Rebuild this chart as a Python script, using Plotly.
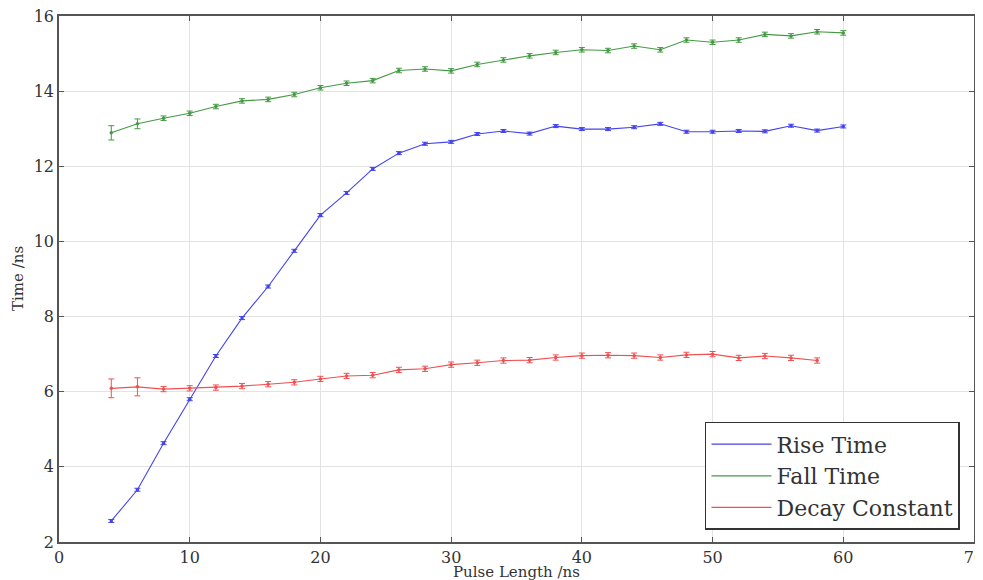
import plotly.graph_objects as go

pulse_rise_fall = [4, 6, 8, 10, 12, 14, 16, 18, 20, 22, 24, 26, 28, 30, 32, 34, 36, 38, 40,
                   42, 44, 46, 48, 50, 52, 54, 56, 58, 60]
pulse_decay = pulse_rise_fall[:-1]

rise_time = [2.56, 3.39, 4.63, 5.80, 6.95, 7.96, 8.80, 9.75, 10.70, 11.29, 11.93, 12.35,
             12.60, 12.65, 12.86, 12.94, 12.87, 13.07, 12.99, 12.99, 13.04, 13.13, 12.92,
             12.92, 12.94, 12.93, 13.08, 12.95, 13.06]
rise_err = [0.04] * len(rise_time)

fall_time = [12.89, 13.13, 13.28, 13.41, 13.59, 13.74, 13.78, 13.91, 14.09, 14.21, 14.28,
             14.55, 14.59, 14.54, 14.71, 14.83, 14.94, 15.03, 15.10, 15.08, 15.20, 15.10,
             15.36, 15.30, 15.36, 15.51, 15.47, 15.58, 15.55]
fall_err = [0.19, 0.13] + [0.06] * (len(fall_time) - 2)

decay_const = [6.09, 6.13, 6.07, 6.09, 6.11, 6.15, 6.20, 6.25, 6.34, 6.42, 6.44, 6.58,
               6.61, 6.72, 6.77, 6.83, 6.84, 6.91, 6.96, 6.97, 6.96, 6.91, 6.98, 7.00,
               6.90, 6.95, 6.90, 6.83]
decay_err = [0.25, 0.24] + [0.07] * (len(decay_const) - 2)

x_ticks = [0, 10, 20, 30, 40, 50, 60, 70]
y_ticks = [2, 4, 6, 8, 10, 12, 14, 16]

FONT = "DejaVu Serif"
TXT = "#333333"

series = [
    ("Rise Time", pulse_rise_fall, rise_time, rise_err, "#4444ee"),
    ("Fall Time", pulse_rise_fall, fall_time, fall_err, "#449a44"),
    ("Decay Constant", pulse_decay, decay_const, decay_err, "#f05050"),
]

fig = go.Figure()
for i, (name, xs, ys, errs, col) in enumerate(series):
    fig.add_trace(go.Scatter(
        x=xs, y=ys, name=name, mode="lines+markers", showlegend=False,
        line=dict(color=col, width=1.1),
        marker=dict(color=col, size=3.5),
        error_y=dict(type="data", array=errs, visible=True, color=col,
                     thickness=1, width=3),
    ))
for i, (name, xs, ys, errs, col) in enumerate(series):
    fig.add_trace(go.Scatter(
        x=[None], y=[None], name=name, mode="lines",
        legendgroup=f"g{i}",
        line=dict(color=col, width=1.3),
    ))

axis_common = dict(
    showline=True, linecolor="#555555", linewidth=1.5, mirror="ticks",
    ticks="inside", ticklen=5, tickcolor="#555555",
    showgrid=True, gridcolor="#e3e3e3", gridwidth=1,
    zeroline=False, automargin=False, ticklabeloverflow="allow",
    tickfont=dict(family=FONT, size=16, color=TXT),
)

fig.update_xaxes(range=[0, 70], tickvals=x_ticks, **axis_common)
fig.update_yaxes(range=[2, 16], tickvals=y_ticks, **axis_common)

fig.update_layout(
    width=975, height=572,
    margin=dict(l=51, r=9, t=8, b=38),
    paper_bgcolor="white", plot_bgcolor="white",
    showlegend=True,
    legend=dict(
        x=0.706, y=0.023, xanchor="left", yanchor="bottom",
        bgcolor="white", bordercolor="#333333", borderwidth=1.5,
        font=dict(family=FONT, size=22, color=TXT),
        traceorder="grouped", tracegroupgap=0,
        itemwidth=60,
    ),
    annotations=[
        dict(text="Pulse Length /ns", xref="paper", yref="paper", x=0.5, y=0,
             yshift=-19, xanchor="center", yanchor="top", showarrow=False,
             font=dict(family=FONT, size=15, color=TXT)),
        dict(text="Time /ns", xref="paper", yref="paper", x=0, y=0.5,
             xshift=-30, xanchor="right", yanchor="middle", showarrow=False,
             textangle=-90, font=dict(family=FONT, size=15, color=TXT)),
    ],
)

fig.write_html("out.html")
